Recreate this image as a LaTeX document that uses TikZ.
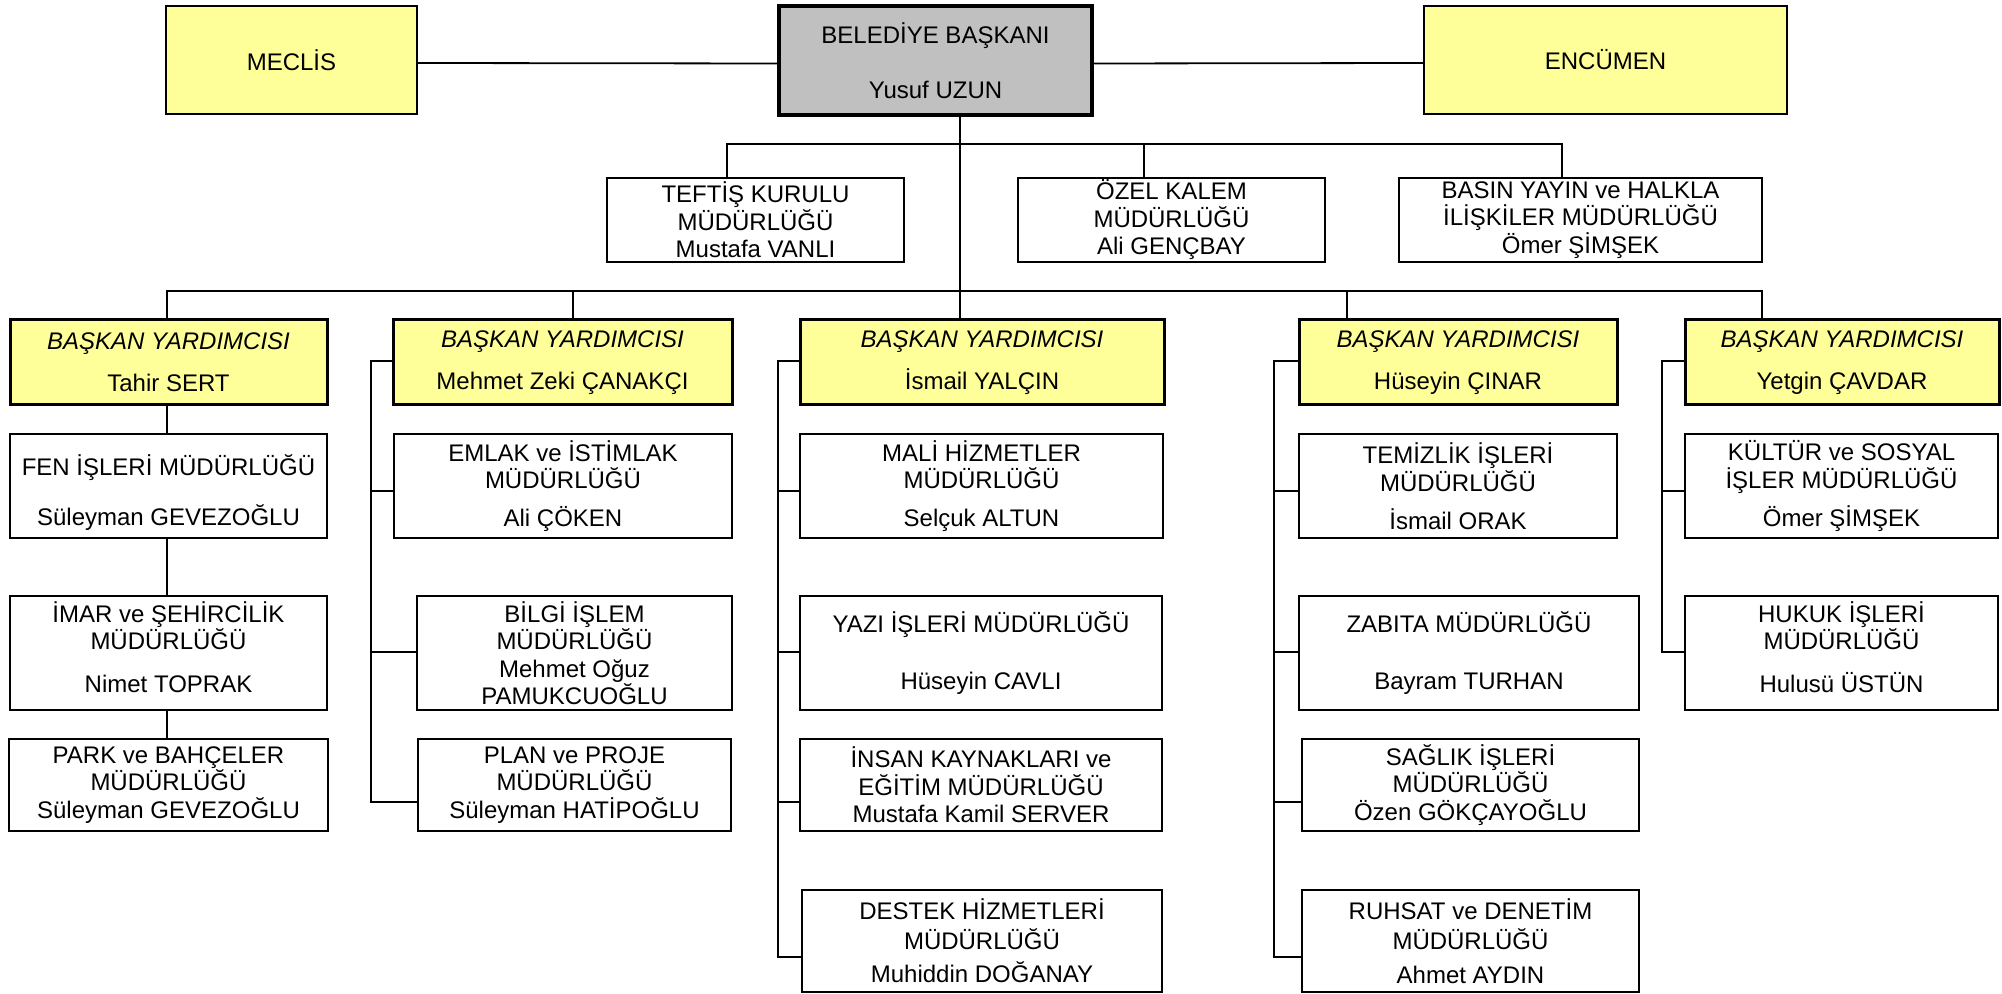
\documentclass[tikz,border=0pt]{standalone}
\usepackage{fontspec}
\setmainfont{Liberation Sans}
\definecolor{ylw}{HTML}{FFFF99}
\definecolor{gry}{HTML}{C0C0C0}
\newcommand\obox[7]{\node[#6, minimum width={(#4-#2)*0.5pt}, minimum height={(#5-#3)*0.5pt}] (#1) at ({(#2+#4)/2},{(#3+#5)/2}) {#7};}
\newcommand\dn[1]{\rule[-#1]{0pt}{0pt}}
\newcommand\up[1]{\rule{0pt}{#1}}
\begin{document}
\begin{tikzpicture}[x=0.5pt,y=-0.5pt,
  every node/.style={font=\fontsize{12}{13.75}\selectfont},
  base/.style={draw=black, inner sep=0pt, outer sep=0pt, align=center, line width=1pt, fill=white},
  dept/.style={base},
  office/.style={base, line width=0.95pt},
  topbox/.style={base, line width=1.2pt, fill=ylw},
  mayor/.style={base, line width=1.7pt, fill=gry},
  vp/.style={base, line width=1.5pt, fill=ylw},
  conn/.style={line width=0.9pt, line join=miter}]
\useasboundingbox (0,0) rectangle (2002,994);

% top level
\obox{meclis}{166}{6}{417}{114}{topbox}{MECLİS}
\obox{baskan}{779}{6}{1092}{115}{mayor}{BELEDİYE BAŞKANI\\[13.75pt]Yusuf UZUN}
\obox{encumen}{1424}{6}{1787}{114}{topbox}{ENCÜMEN}

% offices
\obox{teftis}{607}{178}{904}{262}{office}{TEFTİŞ KURULU\\MÜDÜRLÜĞÜ\\Mustafa VANLI}
\obox{ozel}{1018}{178}{1325}{262}{office}{ÖZEL KALEM\\MÜDÜRLÜĞÜ\\Ali GENÇBAY}
\obox{basin}{1399}{178}{1762}{262}{office}{BASIN YAYIN ve HALKLA\\İLİŞKİLER MÜDÜRLÜĞÜ\\Ömer ŞİMŞEK}

% vice mayors
\obox{tahir}{10}{320}{327}{405}{vp}{\textit{BAŞKAN YARDIMCISI}\\[7.25pt]Tahir SERT}
\obox{mehmet}{393}{320}{732}{405}{vp}{\textit{BAŞKAN YARDIMCISI}\\[7.25pt]Mehmet Zeki ÇANAKÇI}
\obox{ismail}{800}{320}{1164}{405}{vp}{\textit{BAŞKAN YARDIMCISI}\\[7.25pt]İsmail YALÇIN}
\obox{huseyin}{1299}{320}{1617}{405}{vp}{\textit{BAŞKAN YARDIMCISI}\\[7.25pt]Hüseyin ÇINAR}
\obox{yetgin}{1685}{320}{1999}{405}{vp}{\textit{BAŞKAN YARDIMCISI}\\[7.25pt]Yetgin ÇAVDAR}

% row 1
\obox{fen}{10}{434}{327}{538}{dept}{\up{17pt}FEN İŞLERİ MÜDÜRLÜĞÜ\\[11.25pt]Süleyman GEVEZOĞLU}
\obox{emlak}{394}{434}{732}{538}{dept}{EMLAK ve İSTİMLAK\\MÜDÜRLÜĞÜ\\[5.25pt]Ali ÇÖKEN}
\obox{mali}{800}{434}{1163}{538}{dept}{MALİ HİZMETLER\\MÜDÜRLÜĞÜ\\[5.25pt]Selçuk ALTUN}
\obox{temizlik}{1299}{434}{1617}{538}{dept}{TEMİZLİK İŞLERİ\\MÜDÜRLÜĞÜ\\[5.25pt]İsmail ORAK}
\obox{kultur}{1685}{434}{1998}{538}{dept}{KÜLTÜR ve SOSYAL\\İŞLER MÜDÜRLÜĞÜ\\[5.25pt]Ömer ŞİMŞEK}

% row 2
\obox{imar}{10}{596}{327}{710}{dept}{İMAR ve ŞEHİRCİLİK\\MÜDÜRLÜĞÜ\\[7.75pt]Nimet TOPRAK\dn{6pt}}
\obox{bilgi}{417}{596}{732}{710}{dept}{BİLGİ İŞLEM\\MÜDÜRLÜĞÜ\\Mehmet Oğuz\\PAMUKCUOĞLU}
\obox{yazi}{800}{596}{1162}{710}{dept}{YAZI İŞLERİ MÜDÜRLÜĞÜ\\[14.75pt]Hüseyin CAVLI}
\obox{zabita}{1299}{596}{1639}{710}{dept}{ZABITA MÜDÜRLÜĞÜ\\[14.75pt]Bayram TURHAN}
\obox{hukuk}{1685}{596}{1998}{710}{dept}{HUKUK İŞLERİ\\MÜDÜRLÜĞÜ\\[7.75pt]Hulusü ÜSTÜN\dn{6pt}}

% row 3
\obox{park}{9}{739}{328}{831}{dept}{PARK ve BAHÇELER\\MÜDÜRLÜĞÜ\\Süleyman GEVEZOĞLU}
\obox{plan}{418}{739}{731}{831}{dept}{PLAN ve PROJE\\MÜDÜRLÜĞÜ\\Süleyman HATİPOĞLU}
\obox{insan}{800}{739}{1162}{831}{dept}{İNSAN KAYNAKLARI ve\\EĞİTİM MÜDÜRLÜĞÜ\\Mustafa Kamil SERVER}
\obox{saglik}{1302}{739}{1639}{831}{dept}{SAĞLIK İŞLERİ\\MÜDÜRLÜĞÜ\\Özen GÖKÇAYOĞLU}

% row 4
\obox{destek}{802}{890}{1162}{992}{dept}{DESTEK HİZMETLERİ\\[1.25pt]MÜDÜRLÜĞÜ\\[2.75pt]Muhiddin DOĞANAY}
\obox{ruhsat}{1302}{890}{1639}{992}{dept}{RUHSAT ve DENETİM\\[1.25pt]MÜDÜRLÜĞÜ\\[3pt]Ahmet AYDIN}

% top connectors
\draw[conn] ([yshift=-1.5pt]meclis.east) -- ([yshift=-1.5pt]baskan.west);
\draw[conn] ([yshift=-1.5pt]baskan.east) -- ([yshift=-1.5pt]encumen.west);

% trunk
\coordinate (tr) at (960,291);
\draw[conn] (baskan.south -| tr) -- (ismail.north -| tr);

% office bus
\coordinate (b1a) at (727,144);
\coordinate (b1b) at (1144,144);
\coordinate (b1c) at (1562,144);
\draw[conn] (teftis.north -| b1a) -- (b1a) -- (b1c) -- (basin.north -| b1c);
\draw[conn] (b1b) -- (ozel.north -| b1b);

% vice mayor bus
\coordinate (b2a) at (167,291);
\coordinate (b2b) at (573,291);
\coordinate (b2d) at (1347,291);
\coordinate (b2e) at (1762,291);
\draw[conn] (tahir.north -| b2a) -- (b2a) -- (b2e) -- (yetgin.north -| b2e);
\draw[conn] (b2b) -- (mehmet.north -| b2b);
\draw[conn] (b2d) -- (huseyin.north -| b2d);

% Tahir chain
\draw[conn] (tahir.south -| b2a) -- (fen.north -| b2a);
\draw[conn] (fen.south -| b2a) -- (imar.north -| b2a);
\draw[conn] (imar.south -| b2a) -- (park.north -| b2a);

% Mehmet bracket
\coordinate (m1) at (371,361);
\coordinate (m2) at (371,491);
\coordinate (m3) at (371,652);
\coordinate (m4) at (371,802);
\draw[conn] (mehmet.west |- m1) -- (m1) -- (m4) -- (plan.west |- m4);
\draw[conn] (m2) -- (emlak.west |- m2);
\draw[conn] (m3) -- (bilgi.west |- m3);

% Ismail bracket
\coordinate (i1) at (778,361);
\coordinate (i2) at (778,491);
\coordinate (i3) at (778,652);
\coordinate (i4) at (778,802);
\coordinate (i5) at (778,957);
\draw[conn] (ismail.west |- i1) -- (i1) -- (i5) -- (destek.west |- i5);
\draw[conn] (i2) -- (mali.west |- i2);
\draw[conn] (i3) -- (yazi.west |- i3);
\draw[conn] (i4) -- (insan.west |- i4);

% Huseyin bracket
\coordinate (h1) at (1274,361);
\coordinate (h2) at (1274,491);
\coordinate (h3) at (1274,652);
\coordinate (h4) at (1274,802);
\coordinate (h5) at (1274,957);
\draw[conn] (huseyin.west |- h1) -- (h1) -- (h5) -- (ruhsat.west |- h5);
\draw[conn] (h2) -- (temizlik.west |- h2);
\draw[conn] (h3) -- (zabita.west |- h3);
\draw[conn] (h4) -- (saglik.west |- h4);

% Yetgin bracket
\coordinate (y1) at (1662,361);
\coordinate (y2) at (1662,491);
\coordinate (y3) at (1662,652);
\draw[conn] (yetgin.west |- y1) -- (y1) -- (y3) -- (hukuk.west |- y3);
\draw[conn] (y2) -- (kultur.west |- y2);
\end{tikzpicture}
\end{document}
